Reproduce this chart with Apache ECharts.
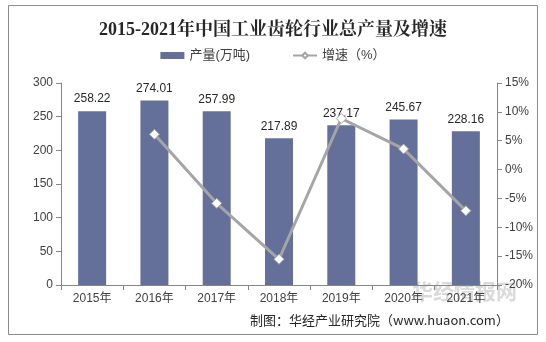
<!DOCTYPE html>
<html><head><meta charset="utf-8">
<script src="https://cdn.jsdelivr.net/npm/echarts@6/dist/echarts.min.js"></script>
<style>html,body{margin:0;padding:0;background:#fff}#c{width:546px;height:342px}</style>
</head><body><div id="c"></div>
<script>
const categories = ['2015年','2016年','2017年','2018年','2019年','2020年','2021年'];
const output = [258.22, 274.01, 257.99, 217.89, 237.17, 245.67, 228.16];
const growth = [null, 6.11, -5.85, -15.54, 8.85, 3.58, -7.13];
const chart = echarts.init(document.getElementById('c'));
const font = '"Liberation Sans", Arial, "Noto Sans CJK SC", sans-serif';
chart.setOption({
  animation: false,
  title: {
    text: '2015-2021年中国工业齿轮行业总产量及增速',
    left: 'center', top: 16,
    textStyle: {fontFamily: '"Liberation Serif", "Noto Serif CJK SC", "Noto Sans CJK SC", serif', fontSize: 18, fontWeight: 'bold', color: '#262626'}
  },
  legend: {
    top: 44, left: 'center', itemGap: 42, itemWidth: 24, itemHeight: 7,
    textStyle: {fontFamily: font, fontSize: 13, color: '#404040'},
    data: [
      {name: '产量(万吨)', icon: 'rect'},
      {name: '增速（%）'}
    ]
  },
  graphic: [
    {type: 'rect', shape: {x: 8.5, y: 5.5, width: 529, height: 329}, style: {fill: 'none', stroke: '#8c8c8c', lineWidth: 1}, silent: true},
    {type: 'text', left: 250, top: 314, style: {text: '制图：华经产业研究院（www.huaon.com）', font: '13px "Noto Sans CJK SC", sans-serif', fill: '#262626'}},
    {type: 'text', left: 412, top: 281, style: {text: '华经情报网', font: 'bold 21px "Noto Sans CJK SC", sans-serif', fill: 'rgba(150,150,150,0.35)'}}
  ],
  grid: {left: 61, right: 49, top: 83, bottom: 57},
  xAxis: {
    type: 'category', data: categories,
    axisLine: {lineStyle: {color: '#868686'}},
    axisTick: {show: true, alignWithLabel: false, lineStyle: {color: '#868686'}},
    axisLabel: {fontFamily: font, fontSize: 12, color: '#404040', margin: 8}
  },
  yAxis: [
    {type: 'value', min: 0, max: 300, interval: 50,
     axisLine: {show: true, lineStyle: {color: '#868686'}},
     axisTick: {show: true, lineStyle: {color: '#868686'}},
     splitLine: {show: false},
     axisLabel: {fontFamily: font, fontSize: 12, color: '#404040'}},
    {type: 'value', min: -20, max: 15, interval: 5,
     axisLine: {show: true, lineStyle: {color: '#868686'}},
     axisTick: {show: true, lineStyle: {color: '#868686'}},
     splitLine: {show: false},
     axisLabel: {fontFamily: font, fontSize: 12, color: '#404040', formatter: '{value}%'}}
  ],
  series: [
    {name: '产量(万吨)', type: 'bar', data: output, barWidth: 28,
     itemStyle: {color: '#65709a'},
     label: {show: true, position: 'top', distance: 6, fontFamily: font, fontSize: 12, color: '#262626'}},
    {name: '增速（%）', type: 'line', yAxisIndex: 1, data: growth,
     symbol: 'diamond', symbolSize: 10, showAllSymbol: true,
     lineStyle: {color: '#a5a5a5', width: 3},
     itemStyle: {color: '#ffffff', borderColor: '#a5a5a5', borderWidth: 1}}
  ]
});
</script></body></html>
